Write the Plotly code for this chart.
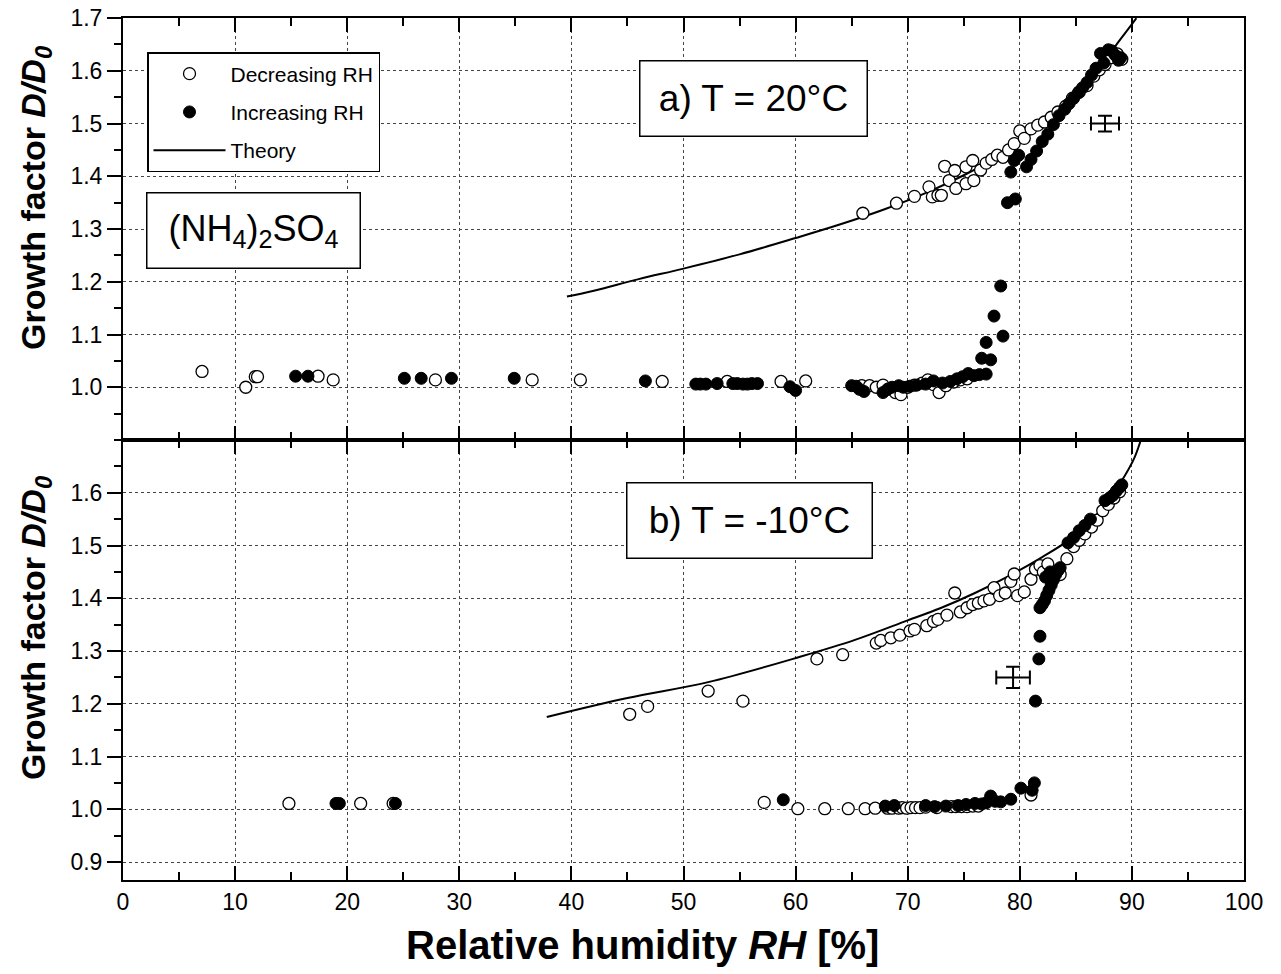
import plotly.graph_objects as go

# ---------------- data: panel a) T = 20 C ----------------
a_dec_rh = [7.05, 10.95, 11.8, 12.0, 17.4, 18.75, 27.87, 36.5, 40.8, 48.1, 53.9, 58.7, 60.9,
            65.9, 66.6, 67.2, 67.8, 68.3, 68.9, 69.4, 70.0, 70.6, 71.3, 71.8, 72.3, 72.8, 73.4, 74.1, 74.7, 75.3,
            66.0, 69.0, 70.6, 71.9, 72.2, 72.7, 73.0, 73.3, 73.7, 74.2, 74.3, 75.2, 75.2, 75.9, 75.8,
            76.5, 77.0, 77.5, 78.0, 78.5, 79.0, 79.5, 80.0, 80.4, 81.0, 81.6, 82.2, 82.8, 83.4, 84.1,
            84.7, 85.3, 86.0, 86.6, 87.1, 87.6, 88.2, 88.7, 89.1]
a_dec_gf = [1.030, 1.000, 1.020, 1.020, 1.021, 1.014, 1.014, 1.014, 1.014, 1.011, 1.011, 1.011, 1.012,
            1.003, 1.003, 1.000, 1.004, 0.997, 0.990, 0.986, 1.000, 1.004, 1.008, 1.014, 1.005, 0.990, 1.003, 1.010, 1.014, 1.016,
            1.330, 1.349, 1.362, 1.380, 1.361, 1.364, 1.364, 1.419, 1.392, 1.411, 1.377, 1.418, 1.386, 1.392, 1.430,
            1.412, 1.425, 1.432, 1.440, 1.436, 1.450, 1.462, 1.486, 1.472, 1.490, 1.497, 1.503, 1.512, 1.522, 1.533,
            1.548, 1.560, 1.572, 1.590, 1.602, 1.612, 1.625, 1.632, 1.622]

a_inc_rh = [15.4, 16.5, 25.1, 26.6, 29.3, 34.9, 46.6, 51.1, 51.5, 52.0, 53.0, 54.4, 54.8, 55.3, 55.7, 56.1, 56.6, 59.5, 60.0,
            65.0, 65.4, 65.7, 66.1, 67.8, 68.2, 68.6, 69.2, 69.6, 70.2, 70.8, 71.6, 72.3, 73.1, 73.8, 74.4, 74.9, 75.4, 75.9, 76.4, 77.0,
            76.6, 77.0, 77.4, 77.7, 78.3, 78.5, 78.9, 79.6, 79.2, 79.5, 79.9, 80.6, 81.0, 81.5, 82.0, 82.5, 83.0, 83.5,
            84.0, 84.4, 84.8, 85.2, 85.6, 86.0, 86.4, 86.8, 87.2, 87.5, 87.9, 88.2, 88.5, 88.8, 89.0]
a_inc_gf = [1.021, 1.021, 1.017, 1.017, 1.017, 1.017, 1.012, 1.006, 1.006, 1.006, 1.007, 1.007, 1.007, 1.006, 1.006, 1.007, 1.007, 1.001, 0.994,
            1.003, 1.002, 0.996, 0.992, 0.990, 0.996, 1.000, 1.003, 1.000, 1.002, 1.004, 1.006, 1.012, 1.008, 1.011, 1.016, 1.020, 1.026, 1.022, 1.024, 1.025,
            1.055, 1.085, 1.052, 1.135, 1.192, 1.097, 1.350, 1.357, 1.408, 1.430, 1.440, 1.418, 1.432, 1.448, 1.466, 1.480, 1.498, 1.515,
            1.527, 1.538, 1.548, 1.558, 1.568, 1.578, 1.592, 1.605, 1.633, 1.615, 1.640, 1.638, 1.630, 1.620, 1.625]

a_theory_rh = [39.6, 42.0, 46.0, 50.0, 55.0, 60.0, 64.0, 68.0, 72.0, 75.0, 78.0, 80.0, 82.0, 84.0, 86.0, 87.5, 88.8, 89.7, 90.4]
a_theory_gf = [1.172, 1.183, 1.205, 1.225, 1.252, 1.283, 1.309, 1.338, 1.372, 1.402, 1.437, 1.465, 1.497, 1.533, 1.577, 1.617, 1.655, 1.680, 1.700]

a_err_rh, a_err_gf = [87.6], [1.50]
a_err_dx, a_err_dy = [1.25], [0.015]

# ---------------- data: panel b) T = -10 C ----------------
b_dec_rh = [14.8, 21.2, 24.1, 57.2, 60.2, 62.6, 64.7, 66.2, 67.1, 68.2, 68.6, 69.2, 69.5, 69.9, 70.3, 70.7, 71.1, 71.6,
            72.6, 73.9, 74.3, 74.8, 75.3, 75.8, 76.3, 81.0,
            45.2, 46.8, 52.2, 55.3, 61.9, 64.2, 67.2, 67.6, 68.5, 69.3, 70.2, 70.6, 71.7, 72.3, 72.7, 73.5, 74.2, 74.7,
            75.3, 75.8, 76.3, 76.8, 77.3, 77.7, 78.2, 78.7, 79.2, 79.5, 79.8, 80.4, 81.0, 81.4, 81.8, 82.1, 82.5, 82.9,
            83.3, 83.6, 84.2, 84.8, 85.3, 85.8, 86.4, 86.9, 87.4, 87.9, 88.4, 88.9]
b_dec_gf = [1.011, 1.011, 1.011, 1.013, 1.001, 1.001, 1.001, 1.001, 1.002, 1.002, 1.002, 1.002, 1.003, 1.002, 1.003, 1.003, 1.003, 1.004,
            1.003, 1.005, 1.005, 1.005, 1.005, 1.006, 1.006, 1.027,
            1.180, 1.195, 1.224, 1.205, 1.285, 1.293, 1.315, 1.320, 1.325, 1.330, 1.338, 1.341, 1.348, 1.356, 1.360, 1.368, 1.410, 1.374,
            1.382, 1.388, 1.391, 1.395, 1.398, 1.420, 1.405, 1.410, 1.432, 1.446, 1.405, 1.412, 1.436, 1.455, 1.462, 1.450, 1.465, 1.438,
            1.452, 1.445, 1.475, 1.498, 1.510, 1.522, 1.535, 1.548, 1.566, 1.578, 1.590, 1.602]

b_inc_rh = [19.0, 19.3, 24.3, 58.9, 68.0, 68.8, 71.6, 72.4, 73.4, 74.5, 75.2, 76.0, 76.6, 77.0, 77.4, 77.8, 78.3, 79.2, 80.1, 81.1, 81.3,
            81.4, 81.7, 81.8, 81.8, 82.0, 82.2, 82.4, 82.6, 82.8, 83.0, 83.2, 83.4, 83.6, 82.3, 82.7,
            84.3, 84.8, 85.3, 85.8, 86.3, 87.6, 88.0, 88.3, 88.6, 88.9, 89.1]
b_inc_gf = [1.011, 1.011, 1.011, 1.018, 1.006, 1.007, 1.007, 1.005, 1.006, 1.007, 1.009, 1.011, 1.010, 1.012, 1.025, 1.015, 1.014, 1.019, 1.040, 1.036, 1.050,
            1.205, 1.285, 1.328, 1.382, 1.388, 1.395, 1.405, 1.415, 1.425, 1.435, 1.445, 1.452, 1.458, 1.440, 1.450,
            1.505, 1.515, 1.528, 1.538, 1.550, 1.585, 1.590, 1.595, 1.603, 1.610, 1.615]

b_theory_rh = [37.8, 45.0, 52.2, 60.4, 65.3, 70.0, 72.9, 76.0, 79.0, 82.0, 84.5, 86.5, 88.0, 89.3, 90.2, 90.8]
b_theory_gf = [1.175, 1.211, 1.241, 1.289, 1.321, 1.358, 1.381, 1.410, 1.442, 1.478, 1.512, 1.550, 1.590, 1.630, 1.665, 1.700]

b_err_rh, b_err_gf = [79.4], [1.25]
b_err_dx, b_err_dy = [1.5], [0.02]

x_ticks = [0, 10, 20, 30, 40, 50, 60, 70, 80, 90, 100]
a_yticks = [1.0, 1.1, 1.2, 1.3, 1.4, 1.5, 1.6, 1.7]
b_yticks = [0.9, 1.0, 1.1, 1.2, 1.3, 1.4, 1.5, 1.6]

FONT = "Arial, 'Liberation Sans', sans-serif"
MS = 12

fig = go.Figure()


def add_panel(xa, ya, dec_rh, dec_gf, inc_rh, inc_gf, th_rh, th_gf, e_rh, e_gf, e_dx, e_dy, show):
    fig.add_trace(go.Scatter(x=th_rh, y=th_gf, mode="lines", name="Theory",
                             line=dict(color="black", width=2, shape="spline"),
                             xaxis=xa, yaxis=ya, showlegend=show, legendgroup="c", legendrank=3))
    fig.add_trace(go.Scatter(x=dec_rh, y=dec_gf, mode="markers", name="Decreasing RH",
                             marker=dict(symbol="circle", size=MS, color="white",
                                         line=dict(color="black", width=1.3)),
                             xaxis=xa, yaxis=ya, showlegend=show, legendgroup="a", legendrank=1))
    fig.add_trace(go.Scatter(x=inc_rh, y=inc_gf, mode="markers", name="Increasing RH",
                             marker=dict(symbol="circle", size=MS, color="black",
                                         line=dict(color="black", width=1)),
                             xaxis=xa, yaxis=ya, showlegend=show, legendgroup="b", legendrank=2))
    fig.add_trace(go.Scatter(x=e_rh, y=e_gf, mode="markers",
                             marker=dict(size=1, color="black"),
                             error_x=dict(type="data", array=e_dx, color="black", thickness=2, width=7),
                             error_y=dict(type="data", array=e_dy, color="black", thickness=2, width=7),
                             xaxis=xa, yaxis=ya, showlegend=False, hoverinfo="skip"))


add_panel("x", "y", a_dec_rh, a_dec_gf, a_inc_rh, a_inc_gf, a_theory_rh, a_theory_gf,
          a_err_rh, a_err_gf, a_err_dx, a_err_dy, True)
add_panel("x2", "y2", b_dec_rh, b_dec_gf, b_inc_rh, b_inc_gf, b_theory_rh, b_theory_gf,
          b_err_rh, b_err_gf, b_err_dx, b_err_dy, False)

# The page body margin is removed (post_script below), so the figure starts at (0, 0).
OFF = 0
W, H = 1281, 974
ML, MR, MT, MB = 123 - OFF, 37 + OFF, 18 - OFF, 94 + OFF
plot_w = W - ML - MR
plot_h = H - MT - MB
split = 440 - 18  # pixels from plot top where the panels meet
dom_split = 1 - split / plot_h
PXU = 527.5  # pixels per unit of growth factor


def px_x(px):  # screenshot pixel -> paper x
    return (px - OFF - ML) / plot_w


def px_y(py):  # screenshot pixel -> paper y
    return 1 - (py - OFF - MT) / plot_h


grid = dict(showgrid=True, gridcolor="#444", gridwidth=1, griddash="dot")
axline = dict(showline=True, linecolor="black", linewidth=2)

xcommon = dict(range=[0, 100], tickmode="array", tickvals=x_ticks, ticks="inside", ticklen=14,
               tickwidth=2, tickcolor="black", mirror="ticks", zeroline=False,
               ticklabeloverflow="allow",
               minor=dict(tickmode="linear", tick0=0, dtick=5, ticks="inside", ticklen=8,
                          tickwidth=2, tickcolor="black", showgrid=False),
               tickfont=dict(family=FONT, size=23, color="black"), **grid, **axline)

ycommon = dict(ticks="outside", ticklen=14, tickwidth=2, tickcolor="black", mirror=True,
               zeroline=False, tickformat=".1f", ticklabeloverflow="allow",
               minor=dict(tickmode="linear", tick0=0.9, dtick=0.05, ticks="outside", ticklen=7,
                          tickwidth=2, tickcolor="black", showgrid=False),
               tickfont=dict(family=FONT, size=23, color="black"), **grid, **axline)

bottom_px = 880 - 440
fig.update_layout(
    width=W, height=H,
    margin=dict(l=ML, r=MR, t=MT, b=MB, autoexpand=False),
    paper_bgcolor="white", plot_bgcolor="white",
    xaxis=dict(domain=[0, 1], anchor="y", showticklabels=False, matches="x2", **xcommon),
    xaxis2=dict(domain=[0, 1], anchor="y2", **xcommon),
    yaxis=dict(domain=[dom_split, 1], anchor="x", range=[0.9, 1.7002], tickmode="array",
               tickvals=a_yticks, **ycommon),
    yaxis2=dict(domain=[0, dom_split], anchor="x2",
                range=[1.7 - bottom_px / PXU, 1.7],
                tickmode="array", tickvals=b_yticks, **ycommon),
    legend=dict(x=px_x(147), y=px_y(52), xanchor="left", yanchor="top",
                bgcolor="white", bordercolor="black", borderwidth=1.5,
                font=dict(family=FONT, size=21, color="black"),
                tracegroupgap=8, itemwidth=72, traceorder="grouped"),
    showlegend=True,
)

title_font_y = dict(family=FONT, size=34, color="black", weight="bold")
title_font_x = dict(family=FONT, size=40, color="black", weight="bold")
ytitle_text = "Growth factor <i>D/D<sub>0</sub></i>"
fig.add_annotation(x=px_x(35), y=px_y(198), xref="paper", yref="paper", text=ytitle_text,
                   textangle=-90, showarrow=False, font=title_font_y, xanchor="center", yanchor="middle")
fig.add_annotation(x=px_x(35), y=px_y(628), xref="paper", yref="paper", text=ytitle_text,
                   textangle=-90, showarrow=False, font=title_font_y, xanchor="center", yanchor="middle")
fig.add_annotation(x=px_x(642), y=px_y(945), xref="paper", yref="paper",
                   text="Relative humidity <i>RH</i> [%]",
                   showarrow=False, font=title_font_x, xanchor="center", yanchor="middle")

ann_common = dict(showarrow=False, bordercolor="black", borderwidth=1.5, bgcolor="white",
                  align="center", valign="middle")
fig.add_annotation(x=56.2, y=1.548, xref="x", yref="y", text="a) T = 20°C",
                   font=dict(family=FONT, size=37, color="black"), width=222, height=70, borderpad=2,
                   **ann_common)
fig.add_annotation(x=55.9, y=1.548, xref="x2", yref="y2", text="b) T = -10°C",
                   font=dict(family=FONT, size=37, color="black"), width=240, height=70, borderpad=2,
                   **ann_common)
fig.add_annotation(x=11.6, y=1.298, xref="x", yref="y",
                   text="(NH<sub>4</sub>)<sub>2</sub>SO<sub>4</sub>",
                   font=dict(family=FONT, size=36, color="black"), width=208, height=70, borderpad=2,
                   **ann_common)

fig.write_html("out.html", config={"displayModeBar": False},
               post_script="document.body.style.margin='0';")
